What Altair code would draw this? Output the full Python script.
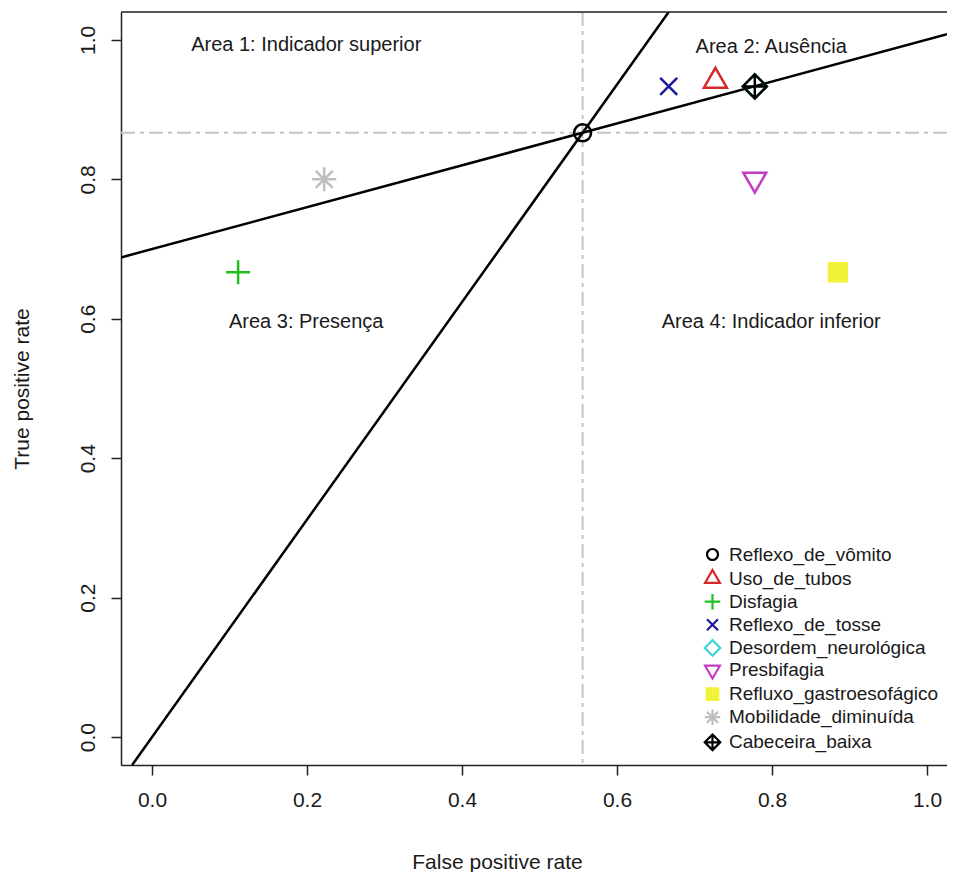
import altair as alt
import pandas as pd

# ---- data ----
names = ["Reflexo_de_vômito", "Uso_de_tubos", "Disfagia", "Reflexo_de_tosse",
         "Desordem_neurológica", "Presbifagia", "Refluxo_gastroesofágico",
         "Mobilidade_diminuída", "Cabeceira_baixa"]
fpr = [0.5556, 0.727, 0.1111, 0.6667, 0.7778, 0.7778, 0.885, 0.2222, 0.7778]
tpr = [0.8667, 0.941, 0.6667, 0.9333, 0.9333, 0.8, 0.6667, 0.8, 0.9333]

stroke_colors = ["#000000", "#D42A2A", "#1FBF1F", "#1A1A9C", "#3ED6D6",
                 "#C23CC2", "#F2F23A", "#BEBEBE", "#000000"]
fill_colors = ["transparent", "transparent", "transparent", "transparent",
               "transparent", "transparent", "#F2F23A", "transparent", "transparent"]
shapes = [
    "M1,0A1,1,0,1,1,-1,0A1,1,0,1,1,1,0Z",
    "M0,-1.555L1.347,0.778L-1.347,0.778Z",
    "M-1.414,0L1.414,0M0,-1.414L0,1.414",
    "M-1,-1L1,1M-1,1L1,-1",
    "M0,-1.414L1.414,0L0,1.414L-1.414,0Z",
    "M0,1.555L1.347,-0.778L-1.347,-0.778Z",
    "M-1.05,-1.05L1.05,-1.05L1.05,1.05L-1.05,1.05Z",
    "M-1.414,0L1.414,0M0,-1.414L0,1.414M-1,-1L1,1M-1,1L1,-1",
    "M0,-1.414L1.414,0L0,1.414L-1.414,0ZM-1.414,0L1.414,0M0,-1.414L0,1.414",
]

cut_x = [0.5556]
cut_y = [0.8667]

steep_x = [-0.0256, 0.6667]
steep_y = [-0.04, 1.04]
shallow_x = [-0.04, 1.0258]
shallow_y = [0.688, 1.008]

area_labels = ["Area 1: Indicador superior", "Area 2: Ausência",
               "Area 3: Presença", "Area 4: Indicador inferior"]
area_x = [0.199, 0.799, 0.199, 0.799]
area_y = [0.993, 0.99, 0.596, 0.595]

x_ticks = [0.0, 0.2, 0.4, 0.6, 0.8, 1.0]
y_ticks = [0.0, 0.2, 0.4, 0.6, 0.8, 1.0]

X_DOM = [-0.04, 1.0258]
Y_DOM = [-0.04, 1.04]
FONT = "Liberation Sans"
TXT = "#1a1a1a"

pts = pd.DataFrame({"name": names, "fpr": fpr, "tpr": tpr, "ord": list(range(len(names)))})
steep = pd.DataFrame({"x": steep_x, "y": steep_y})
shallow = pd.DataFrame({"x": shallow_x, "y": shallow_y})
areas = pd.DataFrame({"label": area_labels, "x": area_x, "y": area_y})
vdf = pd.DataFrame({"x": cut_x})
hdf = pd.DataFrame({"y": cut_y})

xscale = alt.Scale(domain=X_DOM, nice=False, zero=False)
yscale = alt.Scale(domain=Y_DOM, nice=False, zero=False)

xax = alt.Axis(values=x_ticks, format=".1f", grid=False, tickSize=10, tickWidth=1.5,
               tickColor="#222", domainColor="#222", domainWidth=1.5,
               labelFontSize=21, labelColor=TXT, labelBaseline="middle", labelPadding=25,
               labelFlush=False, title="False positive rate", titleFontSize=21,
               titleFontWeight="normal", titleColor=TXT, titleY=97, titleX=376,
               titleAlign="center", titleBaseline="middle")
yax = alt.Axis(values=y_ticks, format=".1f", grid=False, tickSize=10, tickWidth=1.5,
               tickColor="#222", domainColor="#222", domainWidth=1.5,
               labelFontSize=21, labelColor=TXT, labelAngle=270, labelAlign="center",
               labelBaseline="middle", labelPadding=23, labelFlush=False,
               title="True positive rate", titleFontSize=21, titleFontWeight="normal",
               titleColor=TXT, titleX=-99, titleBaseline="middle", titleAngle=270)

base_x = alt.X("x:Q", scale=xscale, axis=xax)
base_y = alt.Y("y:Q", scale=yscale, axis=yax)

vline = alt.Chart(vdf).mark_rule(color="#C4C4C4", strokeWidth=2, strokeDash=[14, 5, 4, 5]).encode(
    x=alt.X("x:Q", scale=xscale, axis=xax))
hline = alt.Chart(hdf).mark_rule(color="#C4C4C4", strokeWidth=2, strokeDash=[14, 5, 4, 5]).encode(
    y=alt.Y("y:Q", scale=yscale, axis=yax))

l1 = alt.Chart(steep).mark_line(color="black", strokeWidth=2.5, clip=True).encode(x=base_x, y=base_y)
l2 = alt.Chart(shallow).mark_line(color="black", strokeWidth=2.5, clip=True).encode(x=base_x, y=base_y)

texts = alt.Chart(areas).mark_text(font=FONT, fontSize=20, color=TXT, baseline="middle",
                                    align="center").encode(x=base_x, y=base_y, text="label:N")

top_frame = alt.Chart(vdf).mark_rule(color="#222", strokeWidth=1.5).encode(
    x=alt.value(0), x2=alt.value(826), y=alt.value(0))

leg = alt.Legend(title=None, orient="none", legendX=582, legendY=533, labelFontSize=19,
                 labelColor=TXT, labelFont=FONT, symbolSize=121, symbolStrokeWidth=2.2,
                 rowPadding=0.1, labelOffset=7, padding=0, symbolOpacity=1, labelLimit=0)

points = alt.Chart(pts).mark_point(size=289, strokeWidth=2.5, opacity=1, filled=False).encode(
    x=alt.X("fpr:Q", scale=xscale, axis=xax),
    y=alt.Y("tpr:Q", scale=yscale, axis=yax),
    shape=alt.Shape("name:N", scale=alt.Scale(domain=names, range=shapes), legend=leg,
                    sort=names),
    stroke=alt.Stroke("name:N", scale=alt.Scale(domain=names, range=stroke_colors), legend=leg,
                      sort=names),
    fill=alt.Fill("name:N", scale=alt.Scale(domain=names, range=fill_colors), legend=leg,
                  sort=names),
    order=alt.Order("ord:Q"),
)

chart = alt.layer(vline, hline, l1, l2, texts, points, top_frame).properties(
    width=826, height=753,
    padding={"left": 113, "top": 4, "right": 0, "bottom": 107},
    autosize=alt.AutoSizeParams(type="none"),
).configure_view(stroke=None).configure(font=FONT)

chart.save("out.html", embed_options={"renderer": "svg", "actions": False})
